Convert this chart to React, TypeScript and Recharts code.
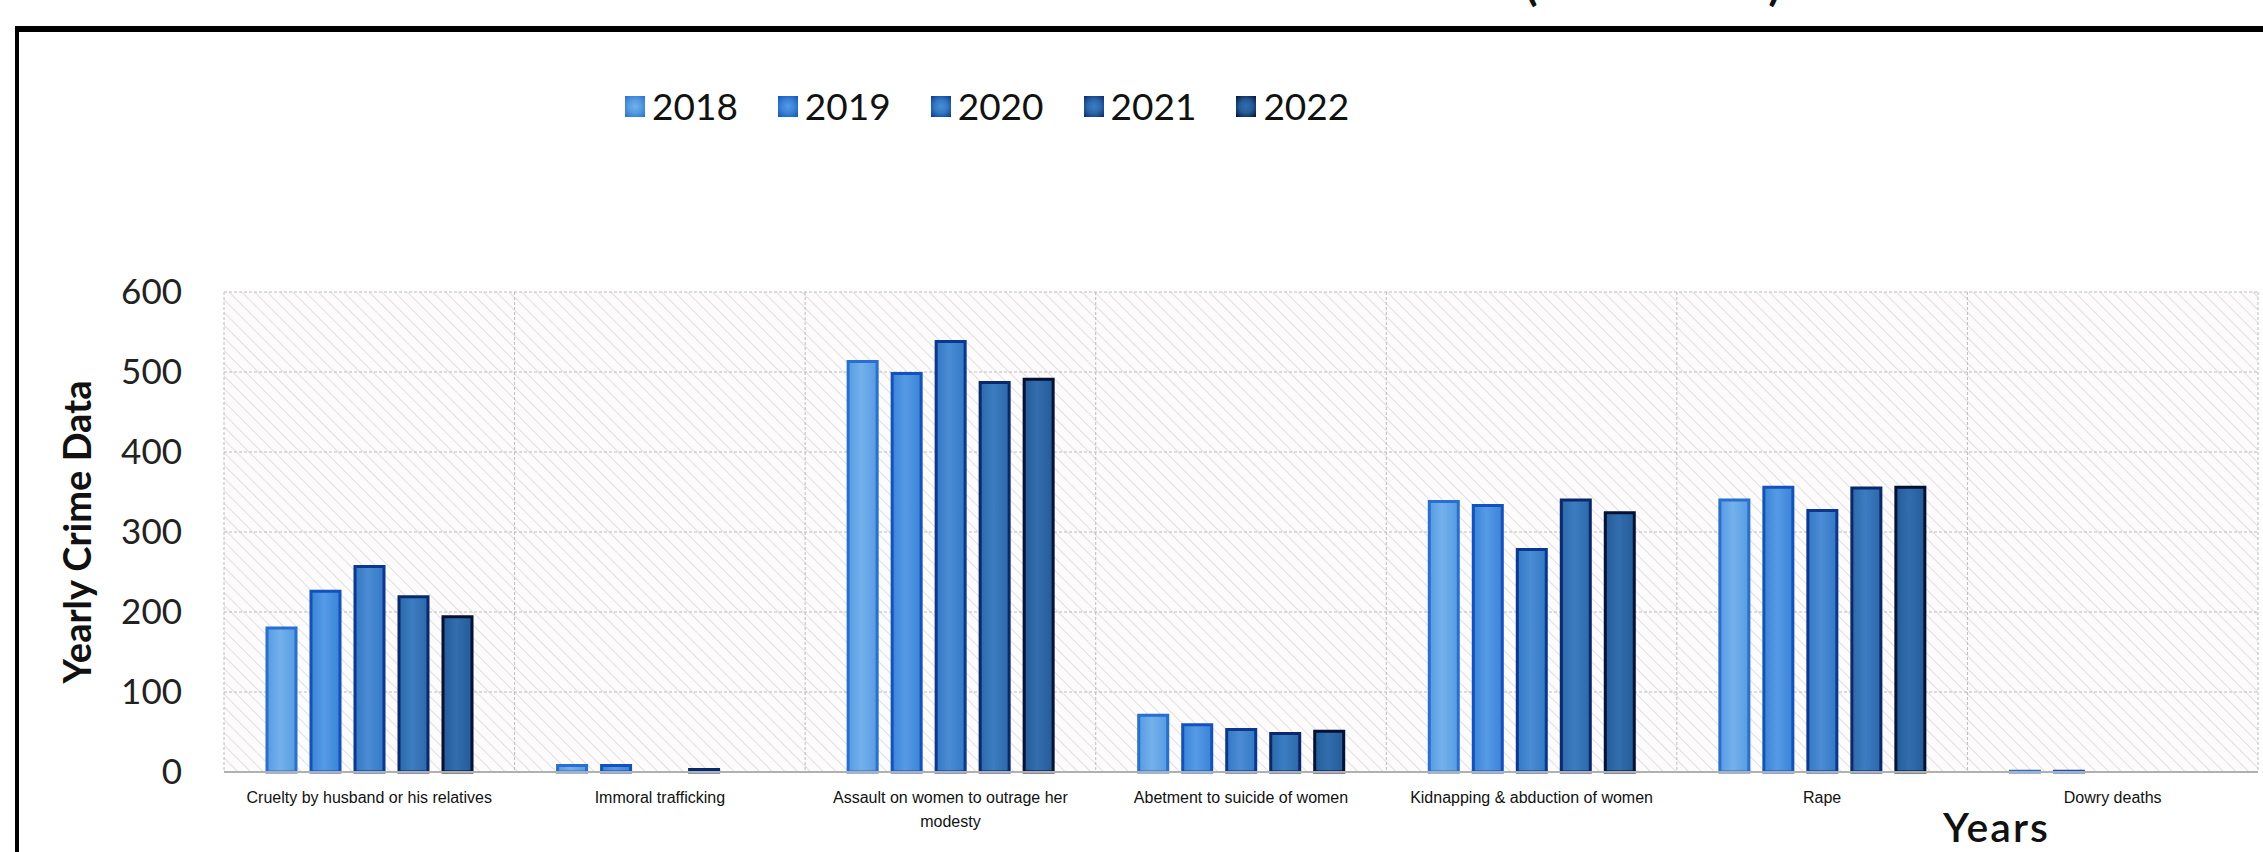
import { BarChart, Bar, XAxis, YAxis, CartesianGrid, Text } from 'recharts';

// Chart values
const categories = [
    'Cruelty by husband or his relatives',
    'Immoral trafficking',
    'Assault on women to outrage her modesty',
    'Abetment to suicide of women',
    'Kidnapping & abduction of women',
    'Rape',
    'Dowry deaths',
];
const years = ['2018', '2019', '2020', '2021', '2022'];
const values2018 = [180, 8, 513, 71, 338, 340, 1];
const values2019 = [226, 8, 498, 59, 333, 356, 1];
const values2020 = [257, 0, 538, 53, 278, 327, 0];
const values2021 = [219, 3, 487, 48, 340, 355, 0];
const values2022 = [194, 0, 491, 51, 324, 356, 0];
const yTicks = [0, 100, 200, 300, 400, 500, 600];

const seriesValues = [values2018, values2019, values2020, values2021, values2022];

const palette = [
    { light: '#74b0ec', mid: '#559ce2', edge: '#276fd0' },
    { light: '#559ae6', mid: '#3a84d6', edge: '#1152c0' },
    { light: '#4b8cd4', mid: '#3279c4', edge: '#0a3792' },
    { light: '#3c7cc0', mid: '#2b69ab', edge: '#09286e' },
    { light: '#326dae', mid: '#245c99', edge: '#031133' },
];

const data = categories.map((name, idx) => {
    const row: Record<string, string | number> = { name };
    years.forEach((year, s) => {
        row[year] = seriesValues[s][idx];
    });
    return row;
});

const CHART_W = 2263;
const CHART_H = 852;

type TickProps = {
    x?: number;
    y?: number;
    payload?: { value: string };
};

const CategoryTick = ({ x = 0, y = 0, payload }: TickProps) => (
    <Text
        x={x}
        y={y + 12}
        width={272}
        textAnchor="middle"
        verticalAnchor="start"
        lineHeight={24}
        fill="#111"
        style={{ fontFamily: 'Liberation Sans, Arial, sans-serif', fontSize: 16 }}
    >
        {payload?.value ?? ''}
    </Text>
);

const Legend = () => (
    <div
        style={{
            position: 'absolute',
            left: 625,
            top: 88,
            display: 'flex',
            alignItems: 'center',
            fontFamily: 'Lato, sans-serif',
            fontSize: 37,
            color: '#111',
        }}
    >
        {years.map((year, idx) => (
            <div key={year} style={{ display: 'flex', alignItems: 'center', marginRight: 40 }}>
                <div
                    style={{
                        width: 20,
                        height: 21,
                        marginRight: 7,
                        background: `radial-gradient(circle, ${palette[idx].light} 0%, ${palette[idx].mid} 45%, ${palette[idx].edge} 100%)`,
                    }}
                />
                <span style={{ lineHeight: '36px' }}>{year}</span>
            </div>
        ))}
    </div>
);

const App = () => {
    return (
        <div style={{ position: 'fixed', inset: 0, background: '#fff', overflow: 'hidden' }}>
            {/* title, cut off by the top of the picture */}
            <div style={{ position: 'absolute', left: 0, top: 0, width: CHART_W, height: 22, overflow: 'hidden' }}>
                <div
                    style={{
                        position: 'absolute',
                        left: 1525,
                        top: -40,
                        fontFamily: 'Lato, sans-serif',
                        fontSize: 46,
                        lineHeight: '46px',
                        fontWeight: 700,
                        color: '#111',
                        whiteSpace: 'nowrap',
                    }}
                >
                    (2018-2022)
                </div>
            </div>

            {/* outer frame */}
            <div
                style={{
                    position: 'absolute',
                    left: 15,
                    top: 26,
                    width: 2400,
                    height: 1000,
                    borderTop: '6px solid #000',
                    borderLeft: '4px solid #000',
                }}
            />

            <Legend />

            <div style={{ position: 'absolute', left: 0, top: 0 }}>
                <BarChart
                    width={CHART_W}
                    height={CHART_H}
                    data={data}
                    margin={{ top: 292, right: 5, bottom: 20, left: 0 }}
                    barSize={29}
                    barGap={15}
                >
                    <defs>
                        <pattern
                            id="hatch"
                            width="9"
                            height="9"
                            patternUnits="userSpaceOnUse"
                            patternTransform="rotate(-45)"
                        >
                            <rect width="9" height="9" fill="#fdfbfb" />
                            <line x1="0" y1="0" x2="0" y2="9" stroke="#d2d2d2" strokeWidth="1.3" />
                        </pattern>
                        {palette.map((c, idx) => (
                            <linearGradient key={idx} id={`bar-${idx}`} x1="0" y1="0" x2="1" y2="0">
                                <stop offset="0%" stopColor={c.mid} />
                                <stop offset="45%" stopColor={c.light} />
                                <stop offset="100%" stopColor={c.mid} />
                            </linearGradient>
                        ))}
                    </defs>
                    <CartesianGrid
                        fill="url(#hatch)"
                        stroke="#bdbdbd"
                        strokeDasharray="3 2"
                        verticalCoordinatesGenerator={({ offset }: any) =>
                            categories
                                .concat([''])
                                .map((_, i) => offset.left + (i * offset.width) / categories.length)
                        }
                    />
                    <XAxis
                        dataKey="name"
                        height={60}
                        interval={0}
                        tickLine={false}
                        axisLine={{ stroke: '#b0b0b0', strokeWidth: 2 }}
                        tick={<CategoryTick />}
                    />
                    <YAxis
                        width={224}
                        domain={[0, 600]}
                        ticks={yTicks}
                        axisLine={false}
                        tickLine={false}
                        tickSize={0}
                        tickMargin={42}
                        tick={{ fill: '#222', fontSize: 35, fontFamily: 'Lato, sans-serif' }}
                        label={{
                            value: 'Yearly Crime Data',
                            angle: -90,
                            position: 'insideLeft',
                            offset: 78,
                            style: {
                                textAnchor: 'middle',
                                fontFamily: 'Lato, sans-serif',
                                fontWeight: 700,
                                fontSize: 38,
                                fill: '#111',
                            },
                        }}
                    />
                    {years.map((year, idx) => (
                        <Bar
                            key={year}
                            dataKey={year}
                            fill={`url(#bar-${idx})`}
                            stroke={palette[idx].edge}
                            strokeWidth={3}
                            isAnimationActive={false}
                        />
                    ))}
                </BarChart>
            </div>

            {/* x axis title */}
            <div
                style={{
                    position: 'absolute',
                    left: 1943,
                    top: 806,
                    fontFamily: 'Lato, sans-serif',
                    fontWeight: 600,
                    fontSize: 41,
                    lineHeight: '41px',
                    letterSpacing: 2,
                    color: '#111',
                }}
            >
                Years
            </div>
        </div>
    );
};

export default App;
